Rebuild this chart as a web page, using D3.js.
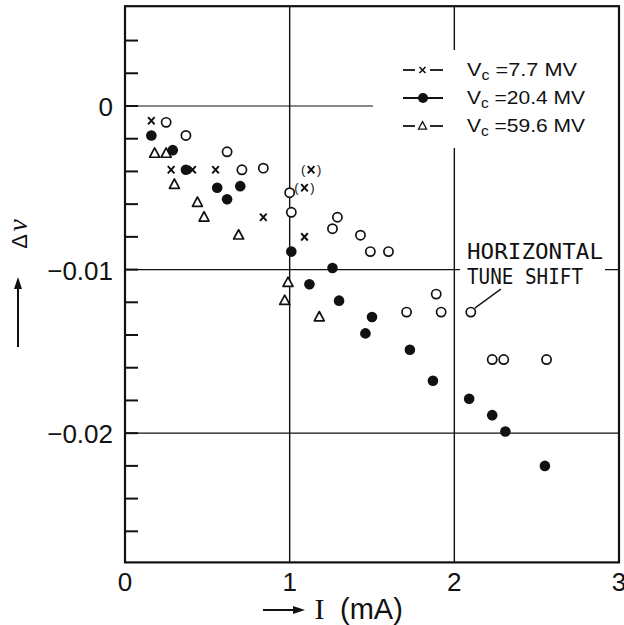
<!DOCTYPE html>
<html><head><meta charset="utf-8">
<script src="https://cdn.jsdelivr.net/npm/d3@7"></script>
<style>html,body{margin:0;padding:0;background:#fff;} svg{display:block;}</style>
</head><body>
<script>
// ---------- DATA ----------
const xTickValues = [0, 1, 2, 3];
const xTickLabels = ["0", "1", "2", "3"];
const yTickValues = [0, -0.01, -0.02];
const yTickLabels = ["0", "\u22120.01", "\u22120.02"];

const legendLabels = ["7.7", "20.4", "59.6"]; // Vc values in MV

// Vc = 7.7 MV (crosses)
const crossI  = [0.16, 0.28, 0.41, 0.55, 0.84, 1.09];
const crossDV = [-0.0009, -0.0039, -0.0039, -0.0039, -0.0068, -0.0080];
// bracketed crosses "(x)"
const parenI  = [1.13, 1.09];
const parenDV = [-0.0039, -0.0050];

// Vc = 20.4 MV (filled circles)
const dotI  = [0.16, 0.29, 0.37, 0.56, 0.62, 0.70, 1.01, 1.12, 1.26, 1.30, 1.46, 1.50, 1.73, 1.87, 2.09, 2.23, 2.31, 2.55];
const dotDV = [-0.0018, -0.0027, -0.0039, -0.0050, -0.0057, -0.0049, -0.0089, -0.0109, -0.0099, -0.0119, -0.0139, -0.0129, -0.0149, -0.0168, -0.0179, -0.0189, -0.0199, -0.0220];

// Vc = 59.6 MV (open triangles)
const triI  = [0.18, 0.25, 0.30, 0.44, 0.48, 0.69, 0.99, 0.97, 1.18];
const triDV = [-0.0029, -0.0029, -0.0048, -0.0059, -0.0068, -0.0079, -0.0108, -0.0119, -0.0129];

// Horizontal tune shift (open circles)
const openI  = [0.25, 0.37, 0.62, 0.71, 0.84, 1.00, 1.01, 1.29, 1.26, 1.43, 1.49, 1.60, 1.89, 1.92, 1.71, 2.10, 2.23, 2.30, 2.56];
const openDV = [-0.0010, -0.0018, -0.0028, -0.0039, -0.0038, -0.0053, -0.0065, -0.0068, -0.0075, -0.0079, -0.0089, -0.0089, -0.0115, -0.0126, -0.0126, -0.0126, -0.0155, -0.0155, -0.0155];
const annotatedIndex = 15; // point the "HORIZONTAL TUNE SHIFT" leader points to

// ---------- DRAW ----------
const W = 624, H = 625;
const svg = d3.select("body").append("svg").attr("width", W).attr("height", H);
const x = d3.scaleLinear().domain([0, 3]).range([125, 619]);
const y = d3.scaleLinear().domain([0.0061, -0.0279]).range([6.2, 562.4]);
const [xL, xR] = x.range();
const [yT, yB] = y.range();
const ink = "#111";

const zip = (a, b) => a.map((v, i) => [v, b[i]]);

// grid lines
const grid = svg.append("g").attr("stroke", ink).attr("stroke-width", 1.1);
grid.append("line").attr("x1", xL).attr("x2", 373).attr("y1", y(0)).attr("y2", y(0));
grid.append("line").attr("x1", xL).attr("x2", xR).attr("y1", y(-0.01)).attr("y2", y(-0.01));
grid.append("line").attr("x1", xL).attr("x2", xR).attr("y1", y(-0.02)).attr("y2", y(-0.02));
grid.append("line").attr("x1", x(1)).attr("x2", x(1)).attr("y1", yT).attr("y2", yB).attr("stroke-width", 1.4);
grid.append("line").attr("x1", x(2)).attr("x2", x(2)).attr("y1", yT).attr("y2", yB).attr("stroke-width", 1.4);

// white backgrounds behind legend and annotation
svg.append("rect").attr("x", 374).attr("y", 50).attr("width", 243).attr("height", 98).attr("fill", "#fff");
svg.append("rect").attr("x", 460).attr("y", 240).attr("width", 145).attr("height", 46).attr("fill", "#fff");

// frame
svg.append("rect").attr("x", xL).attr("y", yT).attr("width", xR - xL).attr("height", yB - yT)
  .attr("fill", "none").attr("stroke", ink).attr("stroke-width", 2.2);

// y ticks (inward, every 0.002)
const minor = d3.range(-13, 3).map(k => k * 0.002);
svg.append("g").selectAll("line").data(minor).join("line")
  .attr("x1", xL).attr("x2", xL + 13).attr("y1", d => y(d)).attr("y2", d => y(d))
  .attr("stroke", ink).attr("stroke-width", 2);

// tick labels
svg.append("g").selectAll("text").data(yTickValues).join("text")
  .attr("x", 113).attr("y", d => y(d) + 10).attr("text-anchor", "end")
  .attr("font-family", "Liberation Sans, Arial, sans-serif").attr("font-size", 26).attr("fill", ink)
  .text((d, i) => yTickLabels[i]);
svg.append("g").selectAll("text").data(xTickValues).join("text")
  .attr("x", d => x(d)).attr("y", 591).attr("text-anchor", "middle")
  .attr("font-family", "Liberation Sans, Arial, sans-serif").attr("font-size", 26).attr("fill", ink)
  .text((d, i) => xTickLabels[i]);

// x axis label: arrow + I (mA)
svg.append("line").attr("x1", 263).attr("x2", 296).attr("y1", 610).attr("y2", 610).attr("stroke", ink).attr("stroke-width", 2);
svg.append("path").attr("d", "M305,610L293,606L293,614Z").attr("fill", ink);
svg.append("text").attr("x", 319.5).attr("y", 619).attr("text-anchor", "middle")
  .attr("font-family", "Liberation Serif, serif").attr("font-size", 30).attr("fill", ink).text("I");
svg.append("text").attr("x", 340).attr("y", 619)
  .attr("font-family", "Liberation Sans, Arial, sans-serif").attr("font-size", 29).attr("fill", ink).text("(mA)");

// y axis label: arrow + Δν
svg.append("line").attr("x1", 18).attr("x2", 18).attr("y1", 347).attr("y2", 287).attr("stroke", ink).attr("stroke-width", 2);
svg.append("path").attr("d", "M18,277L14,289L22,289Z").attr("fill", ink);
const yl = svg.append("text").attr("transform", "translate(27,234) rotate(-90)").attr("text-anchor", "middle").attr("fill", ink);
yl.append("tspan").attr("font-family", "Liberation Sans, Arial, sans-serif").attr("font-size", 22).text("\u0394");
yl.append("tspan").attr("font-family", "Liberation Serif, serif").attr("font-style", "italic").attr("font-size", 27).attr("dx", 3).text("\u03bd");

// marker helpers
const crossPath = "M-3.3,-3.6L3.3,3.6M-3.3,3.6L3.3,-3.6";
const triPath = (s) => `M0,${-s * 0.55}L${s / 2},${s * 0.38}L${-s / 2},${s * 0.38}Z`;

const marks = svg.append("g");
// open circles (horizontal)
marks.append("g").selectAll("circle").data(zip(openI, openDV)).join("circle")
  .attr("cx", d => x(d[0])).attr("cy", d => y(d[1])).attr("r", 4.6)
  .attr("fill", "#fff").attr("stroke", ink).attr("stroke-width", 1.7);
// triangles
marks.append("g").selectAll("path").data(zip(triI, triDV)).join("path")
  .attr("transform", d => `translate(${x(d[0])},${y(d[1])})`).attr("d", triPath(10))
  .attr("fill", "#fff").attr("stroke", ink).attr("stroke-width", 1.7).attr("stroke-linejoin", "round");
// filled circles
marks.append("g").selectAll("circle").data(zip(dotI, dotDV)).join("circle")
  .attr("cx", d => x(d[0])).attr("cy", d => y(d[1])).attr("r", 5.3).attr("fill", ink);
// crosses
marks.append("g").selectAll("path").data(zip(crossI, crossDV)).join("path")
  .attr("transform", d => `translate(${x(d[0])},${y(d[1])})`).attr("d", crossPath)
  .attr("stroke", ink).attr("stroke-width", 2).attr("fill", "none");
// bracketed crosses
const pg = marks.append("g").selectAll("g").data(zip(parenI, parenDV)).join("g")
  .attr("transform", d => `translate(${x(d[0])},${y(d[1])})`);
pg.append("path").attr("d", crossPath).attr("stroke", ink).attr("stroke-width", 2).attr("fill", "none");
pg.append("text").attr("x", -8).attr("y", 4.5).attr("text-anchor", "middle")
  .attr("font-family", "Liberation Sans, Arial, sans-serif").attr("font-size", 13).attr("fill", ink).text("(");
pg.append("text").attr("x", 8).attr("y", 4.5).attr("text-anchor", "middle")
  .attr("font-family", "Liberation Sans, Arial, sans-serif").attr("font-size", 13).attr("fill", ink).text(")");

// annotation
const ax = x(openI[annotatedIndex]), ay = y(openDV[annotatedIndex]);
svg.append("line").attr("x1", ax + 4).attr("y1", ay - 4).attr("x2", ax + 30).attr("y2", ay - 23)
  .attr("stroke", ink).attr("stroke-width", 1.3);
svg.append("text").attr("x", 467).attr("y", 259)
  .attr("font-family", "DejaVu Sans Mono, monospace").attr("font-size", 21).attr("fill", ink)
  .attr("textLength", 136).attr("lengthAdjust", "spacingAndGlyphs").text("HORIZONTAL");
svg.append("text").attr("x", 467).attr("y", 284)
  .attr("font-family", "DejaVu Sans Mono, monospace").attr("font-size", 21).attr("fill", ink)
  .attr("textLength", 116).attr("lengthAdjust", "spacingAndGlyphs").text("TUNE SHIFT");

// legend
const rowsY = [70, 98, 126];
const lengths = [110, 118, 118];
const lg = svg.append("g").attr("stroke", ink);
legendLabels.forEach((lab, i) => {
  const cy = rowsY[i];
  if (i === 1) {
    lg.append("line").attr("x1", 403).attr("x2", 443).attr("y1", cy).attr("y2", cy).attr("stroke-width", 1.8);
    lg.append("circle").attr("cx", 423).attr("cy", cy).attr("r", 5).attr("fill", ink).attr("stroke", "none");
  } else {
    lg.append("line").attr("x1", 403).attr("x2", 415).attr("y1", cy).attr("y2", cy).attr("stroke-width", 1.8);
    lg.append("line").attr("x1", 430).attr("x2", 443).attr("y1", cy).attr("y2", cy).attr("stroke-width", 1.8);
    if (i === 0) {
      lg.append("path").attr("transform", `translate(422.5,${cy})`).attr("d", "M-3,-3L3,3M-3,3L3,-3")
        .attr("stroke-width", 1.6).attr("fill", "none");
    } else {
      lg.append("path").attr("transform", `translate(422.5,${cy})`).attr("d", triPath(8))
        .attr("stroke-width", 1.3).attr("fill", "#fff");
    }
  }
  const t = svg.append("text").attr("x", 467).attr("y", cy + 6)
    .attr("font-family", "Liberation Sans, Arial, sans-serif").attr("font-size", 19).attr("fill", ink)
    .attr("textLength", lengths[i]).attr("lengthAdjust", "spacingAndGlyphs");
  t.append("tspan").text("V");
  t.append("tspan").attr("font-size", 14).attr("dy", 4).text("c");
  t.append("tspan").attr("dy", -4).text(" =" + lab + " MV");
});
</script>
</body></html>
